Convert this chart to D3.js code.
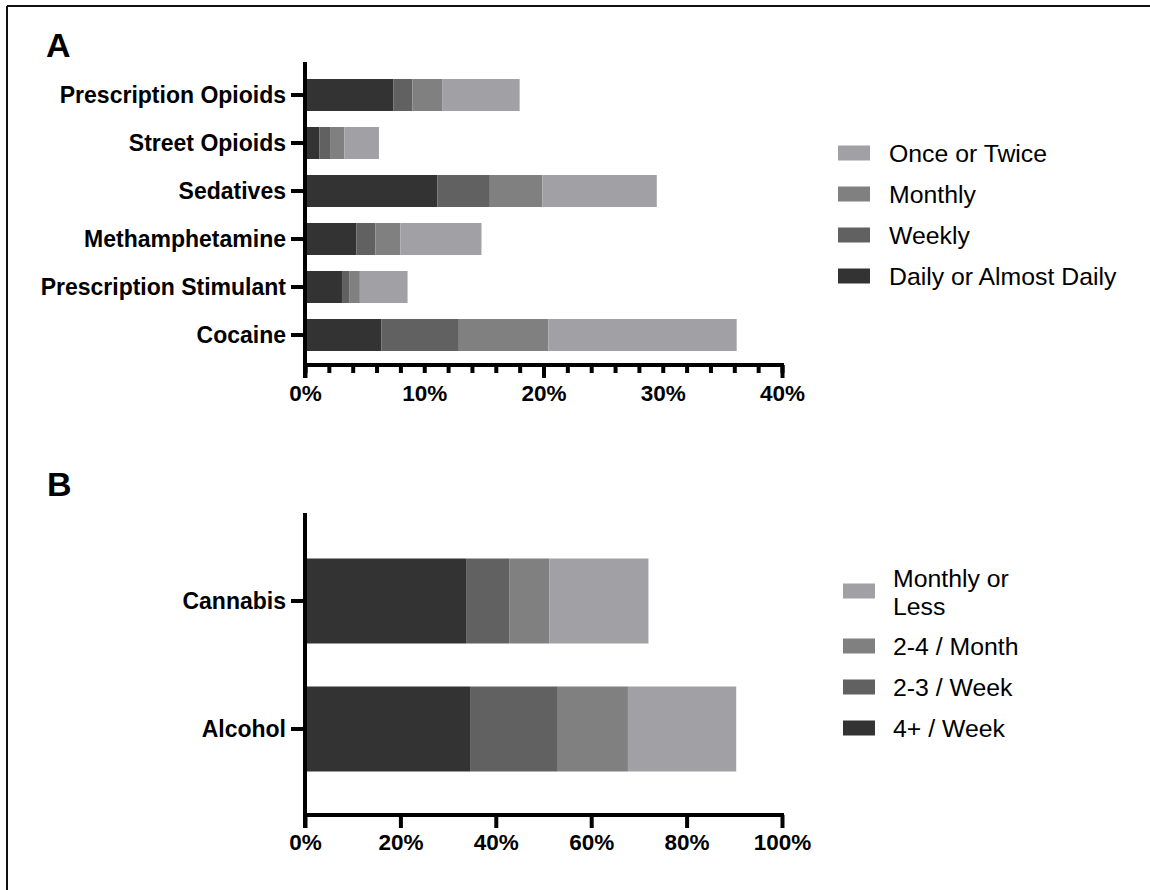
<!DOCTYPE html>
<html>
<head>
<meta charset="utf-8">
<script src="https://cdn.jsdelivr.net/npm/d3@7"></script>
<style>
  html, body { margin: 0; padding: 0; background: #fff; }
  svg { display: block; }
  text { font-family: Arial, "Liberation Sans", sans-serif; fill: #000; }
</style>
</head>
<body>
<svg id="chart" width="1150" height="890"></svg>
<script>
// ---------- Data ----------
const drugCategories = ["Prescription Opioids", "Street Opioids", "Sedatives", "Methamphetamine", "Prescription Stimulant", "Cocaine"];
const drugSeries = ["Daily or Almost Daily", "Weekly", "Monthly", "Once or Twice"];
const drugDaily   = [7.4, 1.2, 11.1, 4.3, 3.1, 6.4];
const drugWeekly  = [1.6, 0.9, 4.4, 1.6, 0.6, 6.5];
const drugMonthly = [2.5, 1.2, 4.4, 2.1, 0.9, 7.5];
const drugOnce    = [6.5, 2.9, 9.6, 6.8, 4.0, 15.8];
const drugTickLabels = [0, 10, 20, 30, 40];

const subCategories = ["Cannabis", "Alcohol"];
const subSeries = ["4+ / Week", "2-3 / Week", "2-4 / Month", "Monthly or Less"];
const sub4Week   = [33.9, 34.6];
const sub23Week  = [8.9, 18.4];
const sub24Month = [8.4, 14.7];
const subMonthly = [20.8, 22.7];
const subTickLabels = [0, 20, 40, 60, 80, 100];

const colors = ["#333333", "#616161", "#808080", "#a1a0a5"];

// ---------- Setup ----------
const svg = d3.select("#chart");
const FONT = 'Arial, "Liberation Sans", sans-serif';

// frame (left + top border)
svg.append("line").attr("x1", 7).attr("y1", 6).attr("x2", 1150).attr("y2", 6)
  .attr("stroke", "#111").attr("stroke-width", 2);
svg.append("line").attr("x1", 7).attr("y1", 6).attr("x2", 7).attr("y2", 890)
  .attr("stroke", "#111").attr("stroke-width", 2);

function buildRows(cats, arrays, keys) {
  return cats.map((c, i) => {
    const o = { cat: c };
    keys.forEach((k, j) => { o[k] = arrays[j][i]; });
    return o;
  });
}

function panel(opts) {
  const { cats, keys, arrays, xMax, yAxisTop, bandRange, padIn, axisY,
          labelTicks, majorTicks, minorTicks, tickLabelDy, legend, letter, letterPos } = opts;
  const x0 = 305, x1 = 782;
  const x = d3.scaleLinear().domain([0, xMax]).range([x0, x1]);
  const y = d3.scaleBand().domain(cats).range(bandRange).paddingInner(padIn).paddingOuter(padIn / 2);
  const rows = buildRows(cats, arrays, keys);
  const stack = d3.stack().keys(keys)(rows);
  const color = d3.scaleOrdinal().domain(keys).range(colors);

  const g = svg.append("g");
  // bars
  g.selectAll("g.layer").data(stack).join("g")
    .attr("class", "layer")
    .attr("fill", d => color(d.key))
    .selectAll("rect").data(d => d).join("rect")
    .attr("x", d => x(d[0]))
    .attr("width", d => x(d[1]) - x(d[0]))
    .attr("y", d => y(d.data.cat))
    .attr("height", y.bandwidth());

  // y axis (ticks + labels)
  const yAx = g.append("g").attr("transform", `translate(${x0},0)`)
    .call(d3.axisLeft(y).tickSize(14).tickPadding(5).tickSizeOuter(0));
  yAx.select(".domain").remove();
  yAx.selectAll(".tick line").attr("stroke", "#000").attr("stroke-width", 4);
  yAx.selectAll(".tick text").attr("font-family", FONT).attr("font-weight", "bold")
    .attr("font-size", "23px").attr("fill", "#000").attr("dy", "0.36em");

  // x axis minor ticks
  if (minorTicks) {
    const mn = g.append("g").attr("transform", `translate(0,${axisY})`)
      .call(d3.axisBottom(x).tickValues(minorTicks).tickSize(8).tickFormat(""));
    mn.select(".domain").remove();
    mn.selectAll(".tick line").attr("stroke", "#000").attr("stroke-width", 4);
  }
  // x axis major ticks
  const mj = g.append("g").attr("transform", `translate(0,${axisY})`)
    .call(d3.axisBottom(x).tickValues(majorTicks).tickSize(13).tickFormat(""));
  mj.select(".domain").remove();
  mj.selectAll(".tick line").attr("stroke", "#000").attr("stroke-width", 4);
  // x axis labels
  const lb = g.append("g").attr("transform", `translate(0,${axisY})`)
    .call(d3.axisBottom(x).tickValues(labelTicks).tickSize(0).tickFormat(d => d + "%"));
  lb.select(".domain").remove();
  lb.selectAll(".tick text").attr("y", tickLabelDy).attr("dy", 0)
    .attr("font-family", FONT).attr("font-weight", "bold").attr("font-size", "22.5px").attr("fill", "#000");

  // axis lines
  g.append("line").attr("x1", x0).attr("x2", x0).attr("y1", yAxisTop).attr("y2", axisY + 13)
    .attr("stroke", "#000").attr("stroke-width", 4);
  g.append("line").attr("x1", x0).attr("x2", x1 + 2).attr("y1", axisY).attr("y2", axisY)
    .attr("stroke", "#000").attr("stroke-width", 4);

  // panel letter
  svg.append("text").attr("x", letterPos[0]).attr("y", letterPos[1])
    .attr("font-family", FONT).attr("font-weight", "bold").attr("font-size", "34px").text(letter);

  // legend
  const lg = svg.append("g");
  legend.items.forEach((it, i) => {
    const cy = legend.centers[i];
    lg.append("rect").attr("x", legend.sx).attr("y", cy - 7.5).attr("width", 32).attr("height", 15)
      .attr("fill", color(it.key));
    if (it.lines.length === 1) {
      lg.append("text").attr("x", legend.tx).attr("y", cy + 8.5)
        .attr("font-family", FONT).attr("font-size", "24.8px").text(it.lines[0]);
    } else {
      it.lines.forEach((ln, k) => {
        lg.append("text").attr("x", legend.tx).attr("y", cy - 4 + k * 27.6)
          .attr("font-family", FONT).attr("font-size", "24.8px").text(ln);
      });
    }
  });
}

// Panel A
panel({
  cats: drugCategories,
  keys: drugSeries,
  arrays: [drugDaily, drugWeekly, drugMonthly, drugOnce],
  xMax: 40,
  yAxisTop: 62,
  bandRange: [71, 359],
  padIn: 1 / 3,
  axisY: 365,
  labelTicks: drugTickLabels,
  majorTicks: [0, 20, 40],
  minorTicks: d3.range(0, 41, 2),
  tickLabelDy: 36,
  letter: "A",
  letterPos: [46, 57],
  legend: {
    sx: 838, tx: 889,
    centers: [153, 194, 235, 276],
    items: [
      { key: drugSeries[3], lines: ["Once or Twice"] },
      { key: drugSeries[2], lines: ["Monthly"] },
      { key: drugSeries[1], lines: ["Weekly"] },
      { key: drugSeries[0], lines: ["Daily or Almost Daily"] }
    ]
  }
});

// Panel B
panel({
  cats: subCategories,
  keys: subSeries,
  arrays: [sub4Week, sub23Week, sub24Month, subMonthly],
  xMax: 100,
  yAxisTop: 513,
  bandRange: [537, 793],
  padIn: 0.336,
  axisY: 815,
  labelTicks: subTickLabels,
  majorTicks: subTickLabels,
  minorTicks: null,
  tickLabelDy: 35,
  letter: "B",
  letterPos: [47, 496],
  legend: {
    sx: 843, tx: 893,
    centers: [591, 646, 687, 728],
    items: [
      { key: subSeries[3], lines: ["Monthly or", "Less"] },
      { key: subSeries[2], lines: ["2-4 / Month"] },
      { key: subSeries[1], lines: ["2-3 / Week"] },
      { key: subSeries[0], lines: ["4+ / Week"] }
    ]
  }
});
</script>
</body>
</html>
